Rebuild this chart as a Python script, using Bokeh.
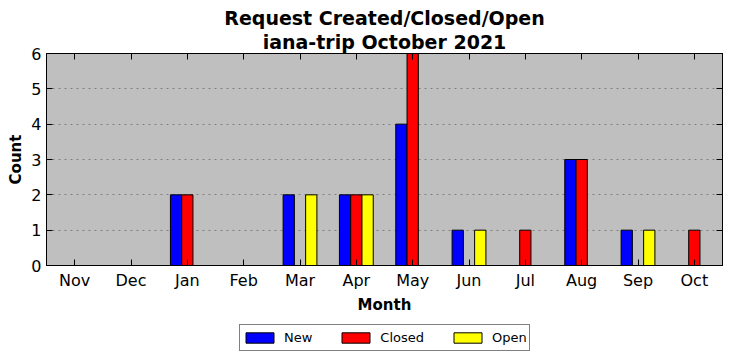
from bokeh.plotting import figure
from bokeh.models import (FixedTicker, LinearAxis, Legend, LegendItem, Title,
                          Range1d, ColumnDataSource)
from bokeh.layouts import column
from bokeh.transform import dodge
from bokeh.embed import file_html
from bokeh.resources import INLINE

months = ["Nov", "Dec", "Jan", "Feb", "Mar", "Apr", "May", "Jun", "Jul", "Aug", "Sep", "Oct"]
new_counts = [0, 0, 2, 0, 2, 2, 4, 1, 0, 3, 1, 0]
closed_counts = [0, 0, 2, 0, 0, 2, 6, 0, 1, 3, 0, 1]
open_counts = [0, 0, 0, 0, 2, 2, 0, 1, 0, 0, 1, 0]
y_ticks = [0, 1, 2, 3, 4, 5, 6]
series_names = ["New", "Closed", "Open"]
series_colors = ["blue", "red", "yellow"]
title_lines = ["Request Created/Closed/Open", "iana-trip October 2021"]

FONT = "DejaVu Sans"
idx = list(range(len(months)))
src = ColumnDataSource(dict(x=idx, new=new_counts, closed=closed_counts, open=open_counts))

p = figure(width=732, height=320, title=None, toolbar_location=None, output_backend="svg",
           x_range=Range1d(-0.5, len(months) - 0.5), y_range=Range1d(0, max(y_ticks)),
           min_border_left=46, min_border_right=10, min_border_top=53, min_border_bottom=55)
p.background_fill_color = "#bfbfbf"
p.border_fill_color = "white"
p.outline_line_color = "black"
p.outline_line_width = 1

bw = 0.2
offsets = [-0.2, 0.0, 0.2]
fields = ["new", "closed", "open"]
for f, off, c in zip(fields, offsets, series_colors):
    p.vbar(x=dodge("x", off), top=f, width=bw, source=src,
           fill_color=c, line_color="black", line_width=1)

month_map = {i: m for i, m in enumerate(months)}

def style_axis(ax, ticks, labels=True):
    ax.ticker = FixedTicker(ticks=ticks)
    ax.major_tick_in = 6
    ax.major_tick_out = 0
    ax.minor_tick_line_color = None
    ax.axis_line_color = "black"
    ax.major_tick_line_color = "black"
    ax.major_label_text_font = FONT
    ax.axis_label_text_font = FONT
    ax.axis_label_text_color = "black"
    ax.axis_label_text_font_style = "bold"
    ax.axis_label_text_font_size = "15px"
    if labels:
        ax.major_label_text_font_size = "16px"
        ax.major_label_text_color = "black"
        ax.major_label_standoff = 5
    else:
        ax.major_label_text_font_size = "1px"
        ax.major_label_text_color = None
        ax.major_label_standoff = 0

xa = p.xaxis[0]
style_axis(xa, idx)
xa.major_label_overrides = month_map
xa.axis_label = "Month"
xa.axis_label_standoff = 3

ya = p.yaxis[0]
style_axis(ya, y_ticks)
ya.axis_label = "Count"
ya.axis_label_standoff = 3

top_ax = LinearAxis()
style_axis(top_ax, idx, labels=False)
right_ax = LinearAxis()
style_axis(right_ax, y_ticks, labels=False)
p.add_layout(top_ax, "above")
p.add_layout(right_ax, "right")

p.xgrid.grid_line_color = None
p.ygrid.ticker = FixedTicker(ticks=y_ticks)
p.ygrid.grid_line_color = "#808080"
p.ygrid.grid_line_dash = "2 4"
p.ygrid.grid_line_width = 1

# second line first: the first title added sits closest to the frame
for i, line in enumerate(reversed(title_lines)):
    p.add_layout(Title(text=line, align="center", text_font=FONT, text_color="black",
                       text_font_size="19px", text_font_style="bold",
                       standoff=1 if i == 0 else 0, offset=0), "above")

# legend strip below the chart
p2 = figure(width=732, height=41, title=None, toolbar_location=None, output_backend="svg",
            x_axis_type=None, y_axis_type=None,
            x_range=Range1d(-0.5, len(months) - 0.5), y_range=Range1d(100, 101),
            min_border=0)
p2.outline_line_color = None
p2.background_fill_color = "white"
p2.border_fill_color = "white"
p2.xgrid.grid_line_color = None
p2.ygrid.grid_line_color = None
items = []
for name, f, off, c in zip(series_names, fields, offsets, series_colors):
    r = p2.vbar(x=dodge("x", off), top=f, width=bw, source=src,
                fill_color=c, line_color="black", line_width=1)
    items.append(LegendItem(label=name, renderers=[r]))

legend = Legend(items=items, orientation="horizontal", location=(193, 10),
                glyph_width=35, glyph_height=13, label_standoff=7, spacing=26,
                padding=2, margin=0, label_height=21,
                label_text_font=FONT, label_text_font_size="13px", label_text_color="black",
                border_line_color="black", border_line_width=1,
                background_fill_color="white", background_fill_alpha=1)
p2.add_layout(legend)

layout = column(p, p2, spacing=0)
open("out.html", "w").write(file_html(layout, INLINE))
